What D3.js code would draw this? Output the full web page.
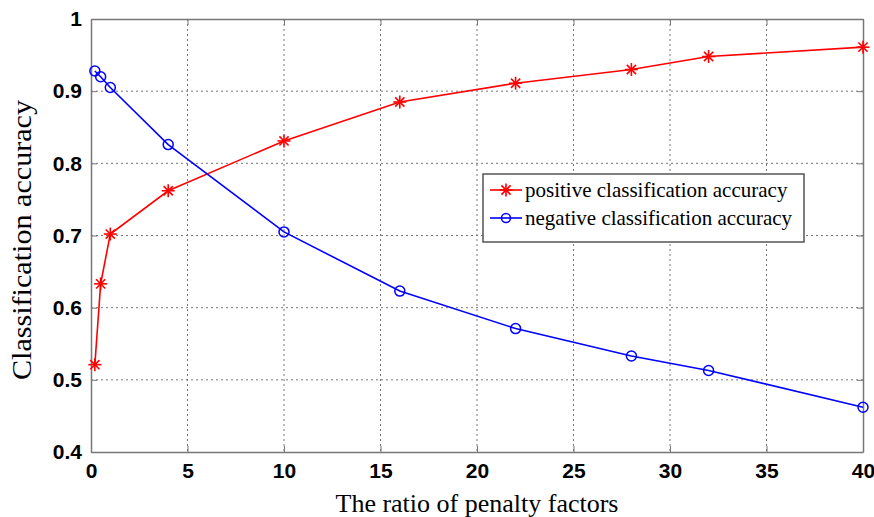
<!DOCTYPE html>
<html lang="en">
<head>
<meta charset="utf-8">
<title>Classification accuracy vs penalty ratio</title>
<script src="https://cdn.jsdelivr.net/npm/d3@7"></script>
<style>
  body { margin: 0; background: #fff; }
  .grid line { stroke: #777; stroke-dasharray: 2,3; stroke-width: 1; }
  .axis-title { font-family: "Liberation Serif", "Times New Roman", serif; fill: #000; }
  .legend text { font-family: "Liberation Serif", "Times New Roman", serif; font-size: 21px; fill: #000; }
</style>
</head>
<body>
<div id="chart"></div>
<script>
  // data
  var ratios = [0.2, 0.5, 1, 4, 10, 16, 22, 28, 32, 40];
  var positiveAcc = [0.521, 0.633, 0.702, 0.762, 0.831, 0.885, 0.911, 0.930, 0.948, 0.961];
  var negativeAcc = [0.928, 0.920, 0.905, 0.826, 0.705, 0.623, 0.571, 0.533, 0.513, 0.462];
  var xTicks = [0, 5, 10, 15, 20, 25, 30, 35, 40];
  var yTicks = [0.4, 0.5, 0.6, 0.7, 0.8, 0.9, 1];
  var seriesNames = ['positive classification accuracy', 'negative classification accuracy'];

  var dims = { w: 874, h: 517, left: 91, top: 19, right: 863, bottom: 452 };

  var svg = d3.select('#chart').append('svg')
    .attr('width', dims.w)
    .attr('height', dims.h);

  var x = d3.scaleLinear().domain([0, 40]).range([dims.left, dims.right]);
  var y = d3.scaleLinear().domain([0.4, 1]).range([dims.bottom, dims.top]);

  // dotted grid
  var grid = svg.append('g').attr('class', 'grid');
  grid.selectAll('.vx').data(xTicks.slice(1, -1)).enter().append('line')
    .attr('x1', function(d) { return x(d); }).attr('x2', function(d) { return x(d); })
    .attr('y1', dims.top).attr('y2', dims.bottom);
  grid.selectAll('.hy').data(yTicks.slice(1, -1)).enter().append('line')
    .attr('y1', function(d) { return y(d); }).attr('y2', function(d) { return y(d); })
    .attr('x1', dims.left).attr('x2', dims.right);

  // axes (matlab style: inward ticks, box all round)
  var xAxis = d3.axisBottom(x).tickValues(xTicks).tickSizeInner(-6).tickSizeOuter(0).tickPadding(11)
    .tickFormat(d3.format('d'));
  var yAxis = d3.axisLeft(y).tickValues(yTicks).tickSizeInner(-6).tickSizeOuter(0).tickPadding(9)
    .tickFormat(function(d) { return d === 1 ? '1' : d3.format('.1f')(d); });

  var gx = svg.append('g').attr('transform', 'translate(0,' + dims.bottom + ')').call(xAxis);
  var gy = svg.append('g').attr('transform', 'translate(' + dims.left + ',0)').call(yAxis);
  svg.append('g').attr('transform', 'translate(0,' + dims.top + ')')
    .call(d3.axisTop(x).tickValues(xTicks).tickSizeInner(-6).tickSizeOuter(0).tickFormat(''));
  svg.append('g').attr('transform', 'translate(' + dims.right + ',0)')
    .call(d3.axisRight(y).tickValues(yTicks).tickSizeInner(-6).tickSizeOuter(0).tickFormat(''));
  svg.selectAll('.domain').attr('stroke', '#777').attr('stroke-width', 1.5);
  svg.selectAll('.tick line').attr('stroke', '#777');
  [gx, gy].forEach(function(g) {
    g.attr('font-size', 21).attr('font-family', '"Liberation Sans", Arial, sans-serif')
      .attr('font-weight', 'bold');
    g.selectAll('text').attr('fill', '#000');
  });

  // lines
  var line = d3.line()
    .x(function(d) { return x(d[0]); })
    .y(function(d) { return y(d[1]); });

  var posData = d3.zip(ratios, positiveAcc);
  var negData = d3.zip(ratios, negativeAcc);

  svg.append('path').datum(posData)
    .attr('d', line).attr('fill', 'none').attr('stroke', '#ff0000').attr('stroke-width', 1.6);
  svg.append('path').datum(negData)
    .attr('d', line).attr('fill', 'none').attr('stroke', '#0000ff').attr('stroke-width', 1.6);

  // asterisk marker
  function star(g, cx, cy, r) {
    [0, 45, 90, 135].forEach(function(a) {
      var rad = a * Math.PI / 180;
      g.append('line')
        .attr('x1', cx - r * Math.cos(rad)).attr('y1', cy - r * Math.sin(rad))
        .attr('x2', cx + r * Math.cos(rad)).attr('y2', cy + r * Math.sin(rad))
        .attr('stroke', '#ff0000').attr('stroke-width', 1.6);
    });
  }

  var stars = svg.append('g');
  posData.forEach(function(d) { star(stars, x(d[0]), y(d[1]), 6.5); });

  svg.append('g').selectAll('circle').data(negData).enter().append('circle')
    .attr('cx', function(d) { return x(d[0]); })
    .attr('cy', function(d) { return y(d[1]); })
    .attr('r', 5)
    .attr('fill', 'none').attr('stroke', '#0000ff').attr('stroke-width', 1.5);

  // axis titles
  svg.append('text').attr('class', 'axis-title')
    .attr('x', 477).attr('y', 512)
    .attr('font-size', 26)
    .attr('text-anchor', 'middle')
    .text('The ratio of penalty factors');
  svg.append('text').attr('class', 'axis-title')
    .attr('transform', 'translate(31,240) rotate(-90)')
    .attr('font-size', 28)
    .attr('text-anchor', 'middle')
    .attr('textLength', 280).attr('lengthAdjust', 'spacingAndGlyphs')
    .text('Classification accuracy');

  // legend
  var legend = svg.append('g').attr('class', 'legend');
  legend.append('rect')
    .attr('x', 483).attr('y', 174).attr('width', 321).attr('height', 68)
    .attr('fill', '#fff').attr('stroke', '#555').attr('stroke-width', 1.5);
  var rowY = [190, 218];
  var colors = ['#ff0000', '#0000ff'];
  seriesNames.forEach(function(name, i) {
    legend.append('line')
      .attr('x1', 490).attr('x2', 522).attr('y1', rowY[i]).attr('y2', rowY[i])
      .attr('stroke', colors[i]).attr('stroke-width', 1.6);
    if (i === 0) star(legend, 506, rowY[i], 6.5);
    else legend.append('circle').attr('cx', 506).attr('cy', rowY[i]).attr('r', 4.5)
      .attr('fill', 'none').attr('stroke', colors[i]).attr('stroke-width', 1.5);
    legend.append('text').attr('x', 525).attr('y', rowY[i]).attr('dy', '0.33em').text(name);
  });
</script>
</body>
</html>
